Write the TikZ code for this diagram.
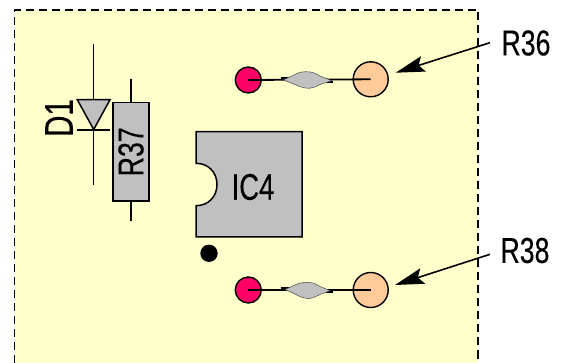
\documentclass[tikz,border=0pt]{standalone}
\usepackage{fontspec}
\setmainfont[FakeStretch=0.74,FakeBold=0.25]{Liberation Sans}
\usetikzlibrary{arrows.meta}
\tikzset{
  part/.style={draw=black,fill=partgray,line width=1.5pt},
  wire/.style={line width=1.4pt},
  padred/.style={circle,draw=black,fill=padpink,line width=1.4pt,minimum size=26pt,inner sep=0pt},
  padorange/.style={circle,draw=black,fill=padpeach,line width=1.4pt,minimum size=35pt,inner sep=0pt},
  bigtext/.style={inner sep=0pt,font=\fontsize{36}{36}\selectfont},
  calloutarrow/.style={line width=1.6pt,-{Stealth[length=29pt,width=16pt,inset=5pt]},shorten >=0pt}
}
\definecolor{partgray}{HTML}{C0C0C0}
\definecolor{padpink}{HTML}{FF0066}
\definecolor{padpeach}{HTML}{FFCC99}
\definecolor{panel}{HTML}{FFFFCC}
\begin{document}
\begin{tikzpicture}[x=1pt,y=-1pt]
\useasboundingbox (0,0) rectangle (562,363);
\fill[panel] (14.5,10) rectangle (478,363);
\draw[line width=1.5pt,dash pattern=on 8pt off 5pt] (14.5,363) -- (14.5,10) -- (478,10) -- (478,363);
% diode
\draw[wire] (93.7,44) -- (93.7,185);
\draw[part] (77.3,99.7) -- (110,99.7) -- (93.7,129.5) -- cycle;
\draw[wire] (77.3,130) -- (110,130);
\node[inner sep=0pt,rotate=90,font=\fontsize{40}{40}\selectfont] (d1) at (59,118) {D1};
% resistor
\draw[wire] (131,78.7) -- (131,221);
\node[part,minimum width=36pt,minimum height=98.3pt,inner sep=0pt] (r37) at (131,151.8) {};
\node[inner sep=0pt,rotate=90,font=\fontsize{36}{36}\selectfont] at (r37.center) {R37};
% IC
\draw[part] (196,131.7) -- (302,131.7) -- (302,237) -- (196,237) -- (196,205.7)
  .. controls (208,205.7) and (217,197) .. (217,184.5)
  .. controls (217,172) and (208,163.3) .. (196,163.3) -- cycle;
\node[inner sep=0pt,font=\fontsize{37}{37}\selectfont] (ic4) at (253,187) {IC4};
\node[circle,fill=black,minimum size=17.4pt,inner sep=0pt] (dot) at (209,253.3) {};
% top pads
\node[padred] (pa) at (248.3,80) {};
\node[padorange] (oa) at (370.7,79.3) {};
\draw[line width=1.8pt] (pa.center) -- (oa.center);
\draw[line width=1.8pt] (280.7,78.4) -- (290,78.4) (326,81.7) -- (333,81.7);
\draw[draw=black!70,fill=partgray,line width=.5pt] (283.3,80) -- (293,75.5) .. controls (298,72.5) and (302,71.7) .. (306,71.7)
  .. controls (311,71.7) and (316,73) .. (320,76) -- (331.7,80.7) -- (320,84.5) .. controls (316,86.5) and (313,88.3) .. (309.3,88.3)
  .. controls (305,88.3) and (300,87) .. (295,84.5) -- cycle;
% bottom pads
\node[padred] (pb) at (248.3,290) {};
\node[padorange] (ob) at (370.7,290) {};
\draw[line width=1.8pt] (pb.center) -- (ob.center);
\draw[line width=1.8pt] (280.7,288.4) -- (290,288.4) (326,291.7) -- (333,291.7);
\draw[draw=black!70,fill=partgray,line width=.5pt] (285,289.5) -- (294,285.5) .. controls (299,283) and (303,282.3) .. (307,282.3)
  .. controls (311,282.3) and (316,283.5) .. (319,286) -- (330,290.7) -- (320,294.5) .. controls (316,296.5) and (312,298.5) .. (309,298.5)
  .. controls (305,298.5) and (300,297) .. (296,294.5) -- cycle;
% callouts
\node[bigtext,anchor=center] (r36) at (526,43) {R36};
\node[bigtext,anchor=center] (r38) at (525,250.5) {R38};
\coordinate (ta) at (395.7,72.7);
\coordinate (tb) at (395,285);
\draw[calloutarrow] (490,42.7) -- (ta);
\draw[calloutarrow] (490,254.3) -- (tb);
\end{tikzpicture}
\end{document}
